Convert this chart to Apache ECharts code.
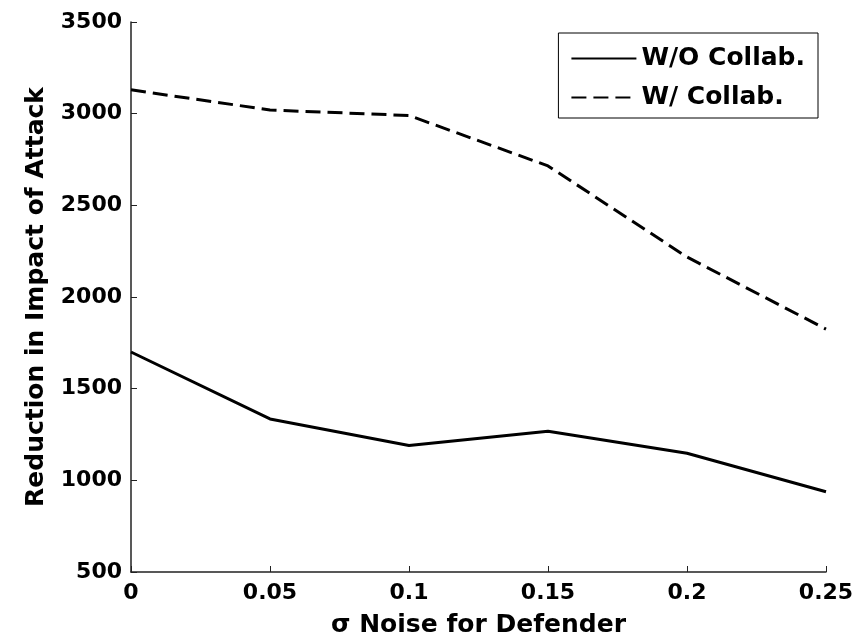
<!DOCTYPE html>
<html>
<head>
<meta charset="utf-8">
<script src="https://cdn.jsdelivr.net/npm/echarts@6/dist/echarts.min.js"></script>
<style>
  html, body { margin: 0; padding: 0; background: #fff; }
  #main { width: 867px; height: 639px; }
</style>
</head>
<body>
<div id="main"></div>
<script>
// sigma noise levels on the x axis
let sigma = [0, 0.05, 0.1, 0.15, 0.2, 0.25];
// reduction in impact of attack
let withoutCollab = [1700, 1335, 1190, 1268, 1148, 938];
let withCollab = [3130, 3020, 2990, 2715, 2218, 1825];
let xTicks = ['0', '0.05', '0.1', '0.15', '0.2', '0.25'];

let font = 'DejaVu Sans, Liberation Sans, sans-serif';

function pairs(ys) {
  return sigma.map(function (x, i) {
    return [x, ys[i]];
  });
}

let myChart = echarts.init(document.getElementById('main'));
let option = {
  animation: false,
  backgroundColor: '#fff',
  grid: {
    left: 131,
    right: 41,
    top: 22,
    bottom: 67,
    outerBoundsMode: 'none'
  },
  legend: {
    right: 49,
    top: 33,
    orient: 'vertical',
    itemWidth: 65,
    itemHeight: 25,
    itemGap: 14,
    padding: [13, 13, 8, 12],
    borderColor: '#000',
    borderWidth: 1,
    backgroundColor: '#fff',
    itemStyle: {opacity: 0},
    textStyle: {
      fontFamily: font,
      fontWeight: 'bold',
      fontSize: 25,
      color: '#000'
    },
    data: ['W/O Collab.', 'W/ Collab.']
  },
  xAxis: {
    type: 'value',
    min: 0,
    max: 0.25,
    interval: 0.05,
    name: 'σ Noise for Defender',
    nameLocation: 'middle',
    nameGap: 41,
    nameMoveOverlap: false,
    nameTextStyle: {
      fontFamily: font,
      fontWeight: 'bold',
      fontSize: 25,
      color: '#000'
    },
    axisLine: {lineStyle: {color: '#222', width: 1.5}},
    axisTick: {inside: true, length: 6, lineStyle: {color: '#222'}},
    axisLabel: {
      fontFamily: font,
      fontWeight: 'bold',
      fontSize: 22,
      color: '#000',
      margin: 10,
      formatter: function (v) {
        return xTicks[Math.round(v / 0.05)];
      }
    },
    splitLine: {show: false}
  },
  yAxis: {
    type: 'value',
    min: 500,
    max: 3500,
    interval: 500,
    name: 'Reduction in Impact of Attack',
    nameLocation: 'middle',
    nameGap: 82,
    nameMoveOverlap: false,
    nameTextStyle: {
      fontFamily: font,
      fontWeight: 'bold',
      fontSize: 25,
      color: '#000'
    },
    axisLine: {show: true, lineStyle: {color: '#222', width: 1.5}},
    axisTick: {show: true, inside: true, length: 6, lineStyle: {color: '#222'}},
    axisLabel: {
      fontFamily: font,
      fontWeight: 'bold',
      fontSize: 22,
      color: '#000',
      margin: 9,
      formatter: function (v) {
        return String(v);
      }
    },
    splitLine: {show: false}
  },
  series: [
    {
      name: 'W/O Collab.',
      type: 'line',
      symbol: 'none',
      data: pairs(withoutCollab),
      lineStyle: {color: '#000', width: 3, type: 'solid'},
      itemStyle: {color: '#000'}
    },
    {
      name: 'W/ Collab.',
      type: 'line',
      symbol: 'none',
      data: pairs(withCollab),
      lineStyle: {color: '#000', width: 3, type: [15, 7]},
      itemStyle: {color: '#000'}
    }
  ]
};
myChart.setOption(option);
</script>
</body>
</html>
